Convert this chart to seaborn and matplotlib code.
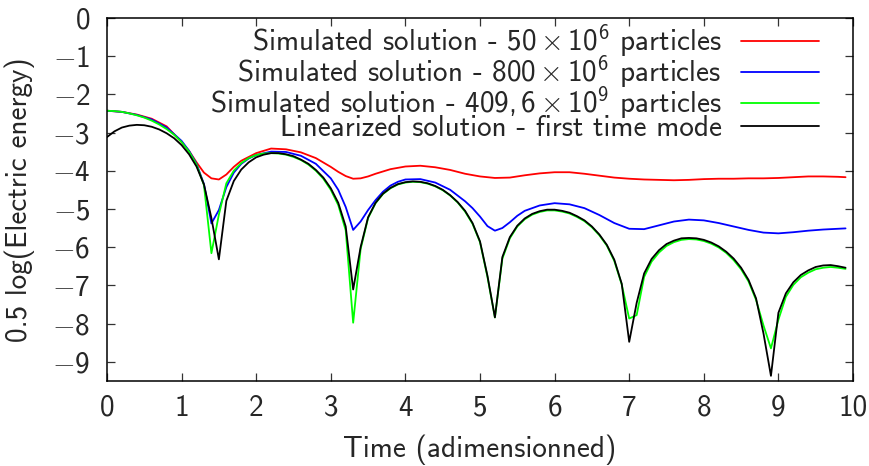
import numpy as np
import matplotlib
matplotlib.use("Agg")
import matplotlib.pyplot as plt
import seaborn as sns

# ---------------- data ----------------
time_fine = np.round(np.arange(0, 100) * 0.1, 1)  # 0.0 .. 9.9

linearized = [-3.12, -2.97, -2.87, -2.82, -2.80, -2.81, -2.85, -2.92, -3.02, -3.15,
              -3.33, -3.57, -3.89, -4.36, -5.24, -6.32, -4.79, -4.27, -3.97, -3.78,
              -3.65, -3.58, -3.54, -3.54, -3.57, -3.62, -3.71, -3.82, -3.98, -4.18,
              -4.46, -4.84, -5.46, -7.11, -6.00, -5.22, -4.84, -4.60, -4.45, -4.35,
              -4.30, -4.28, -4.29, -4.33, -4.40, -4.50, -4.64, -4.82, -5.05, -5.37,
              -5.85, -6.75, -7.84, -6.26, -5.74, -5.44, -5.25, -5.13, -5.06, -5.02,
              -5.02, -5.05, -5.10, -5.19, -5.30, -5.46, -5.67, -5.94, -6.33, -6.96,
              -8.48, -7.46, -6.69, -6.31, -6.08, -5.92, -5.83, -5.77, -5.76, -5.77,
              -5.81, -5.88, -5.98, -6.12, -6.30, -6.54, -6.86, -7.34, -8.26, -9.37,
              -7.72, -7.21, -6.92, -6.73, -6.61, -6.52, -6.48, -6.47, -6.50, -6.54]

sim_409e9 = [-2.43, -2.44, -2.46, -2.50, -2.55, -2.61, -2.69, -2.79, -2.91, -3.06,
             -3.25, -3.50, -3.84, -4.38, -6.16, -5.15, -4.33, -4.00, -3.80, -3.67,
             -3.59, -3.55, -3.54, -3.55, -3.58, -3.64, -3.72, -3.84, -4.00, -4.21,
             -4.50, -4.90, -5.56, -7.98, -6.05, -5.24, -4.85, -4.61, -4.46, -4.36,
             -4.31, -4.29, -4.30, -4.34, -4.41, -4.51, -4.65, -4.83, -5.07, -5.39,
             -5.87, -6.78, -7.84, -6.30, -5.77, -5.46, -5.27, -5.15, -5.08, -5.04,
             -5.04, -5.07, -5.12, -5.21, -5.32, -5.48, -5.69, -5.96, -6.36, -6.98,
             -7.87, -7.78, -6.78, -6.38, -6.14, -5.97, -5.87, -5.81, -5.79, -5.80,
             -5.84, -5.91, -6.01, -6.15, -6.34, -6.58, -6.90, -7.38, -8.05, -8.65,
             -7.90, -7.30, -6.99, -6.79, -6.67, -6.58, -6.54, -6.52, -6.54, -6.57]

time_red = [0.0, 0.2, 0.4, 0.6, 0.8, 1.0, 1.1, 1.2, 1.3, 1.4, 1.5, 1.6, 1.7, 1.8,
            2.0, 2.2, 2.4, 2.6, 2.8, 3.0, 3.1, 3.2, 3.3, 3.4, 3.5, 3.6, 3.8, 4.0,
            4.2, 4.4, 4.6, 4.8, 5.0, 5.2, 5.4, 5.6, 5.8, 6.0, 6.2, 6.4, 6.6, 6.8,
            7.0, 7.2, 7.4, 7.6, 7.8, 8.0, 8.2, 8.4, 8.6, 8.8, 9.0, 9.2, 9.4, 9.6,
            9.8, 9.9]
sim_50e6 = [-2.43, -2.46, -2.53, -2.64, -2.84, -3.25, -3.48, -3.78, -4.05, -4.20,
            -4.23, -4.10, -3.90, -3.74, -3.54, -3.42, -3.44, -3.52, -3.67, -3.90,
            -4.03, -4.14, -4.21, -4.20, -4.15, -4.08, -3.96, -3.89, -3.87, -3.91,
            -3.98, -4.08, -4.15, -4.19, -4.18, -4.12, -4.07, -4.04, -4.04, -4.08,
            -4.13, -4.18, -4.21, -4.23, -4.24, -4.25, -4.24, -4.22, -4.21, -4.21,
            -4.20, -4.20, -4.19, -4.17, -4.15, -4.15, -4.16, -4.17]

time_blue = [0.0, 0.2, 0.4, 0.6, 0.8, 1.0, 1.1, 1.2, 1.3, 1.4, 1.5, 1.6, 1.7, 1.8,
             1.9, 2.0, 2.2, 2.4, 2.6, 2.8, 3.0, 3.1, 3.2, 3.3, 3.4, 3.5, 3.6, 3.7,
             3.8, 3.9, 4.0, 4.2, 4.4, 4.6, 4.8, 4.9, 5.0, 5.1, 5.2, 5.3, 5.4, 5.5,
             5.6, 5.8, 6.0, 6.2, 6.4, 6.6, 6.8, 7.0, 7.2, 7.4, 7.6, 7.8, 8.0, 8.2,
             8.4, 8.6, 8.8, 9.0, 9.2, 9.4, 9.6, 9.8, 9.9]
sim_800e6 = [-2.43, -2.46, -2.54, -2.66, -2.87, -3.22, -3.48, -3.82, -4.35, -5.38,
             -5.03, -4.43, -4.05, -3.82, -3.68, -3.59, -3.50, -3.51, -3.61, -3.82,
             -4.20, -4.50, -4.95, -5.55, -5.33, -5.03, -4.77, -4.55, -4.39, -4.29,
             -4.23, -4.22, -4.31, -4.50, -4.80, -4.98, -5.20, -5.45, -5.57, -5.50,
             -5.35, -5.18, -5.05, -4.91, -4.85, -4.88, -4.98, -5.16, -5.37, -5.52,
             -5.53, -5.43, -5.33, -5.28, -5.30, -5.37, -5.46, -5.55, -5.62, -5.64,
             -5.61, -5.57, -5.54, -5.52, -5.51]

labels = [r"Simulated solution - $50 \times 10^{6}$ particles",
          r"Simulated solution - $800 \times 10^{6}$ particles",
          r"Simulated solution - $409,6 \times 10^{9}$ particles",
          "Linearized solution - first time mode"]
colors = ["#ff0000", "#0000ff", "#00ff00", "#000000"]
x_ticks = list(range(0, 11))
y_ticks = list(range(0, -10, -1))

# ---------------- style ----------------
sns.set_style("ticks")
plt.rcParams["font.family"] = ["cmss10", "DejaVu Sans"]
plt.rcParams["mathtext.fontset"] = "custom"
plt.rcParams["mathtext.rm"] = "cmss10"
plt.rcParams["mathtext.it"] = "cmss10"
plt.rcParams["mathtext.sf"] = "cmss10"
plt.rcParams["mathtext.fallback"] = "cm"
plt.rcParams["axes.unicode_minus"] = True
plt.rcParams["axes.formatter.use_mathtext"] = True

FS = 21
fig = plt.figure(figsize=(8.69, 4.66), dpi=100)
ax = fig.add_axes([0.1231, 0.1828, 0.8585, 0.7788])

series = [(time_red, sim_50e6), (time_blue, sim_800e6),
          (time_fine, sim_409e9), (time_fine, linearized)]
for (tx, ty), lab, col in zip(series, labels, colors):
    sns.lineplot(x=tx, y=ty, ax=ax, color=col, label=lab, linewidth=1.3,
                 sort=False, estimator=None)

ax.set_xlim(0, 10)
ax.set_ylim(-9.5, 0)
ax.set_xticks(x_ticks)
ax.set_yticks(y_ticks)
ax.set_xticklabels([str(v) for v in x_ticks])
ax.set_yticklabels([("$-$" + str(-v)) if v < 0 else "0" for v in y_ticks])
ax.tick_params(axis="both", which="major", direction="in", length=6, width=0.9,
               labelsize=FS, top=True, right=True, color="#333333")
ax.tick_params(axis="y", pad=12)
ax.tick_params(axis="x", pad=10)
for sp in ax.spines.values():
    sp.set_linewidth(1.1)
    sp.set_color("black")

ax.set_xlabel("Time (adimensionned)", fontsize=FS, labelpad=9)
ax.set_ylabel("0.5 log(Electric energy)", fontsize=FS, labelpad=12)

leg = ax.legend(loc="upper right", bbox_to_anchor=(0.955, 0.988), frameon=False,
                markerfirst=False, fontsize=FS, handlelength=2.7, handletextpad=0.65,
                labelspacing=-0.2, borderpad=0, borderaxespad=0)

fig.savefig("out.png", dpi=100)
